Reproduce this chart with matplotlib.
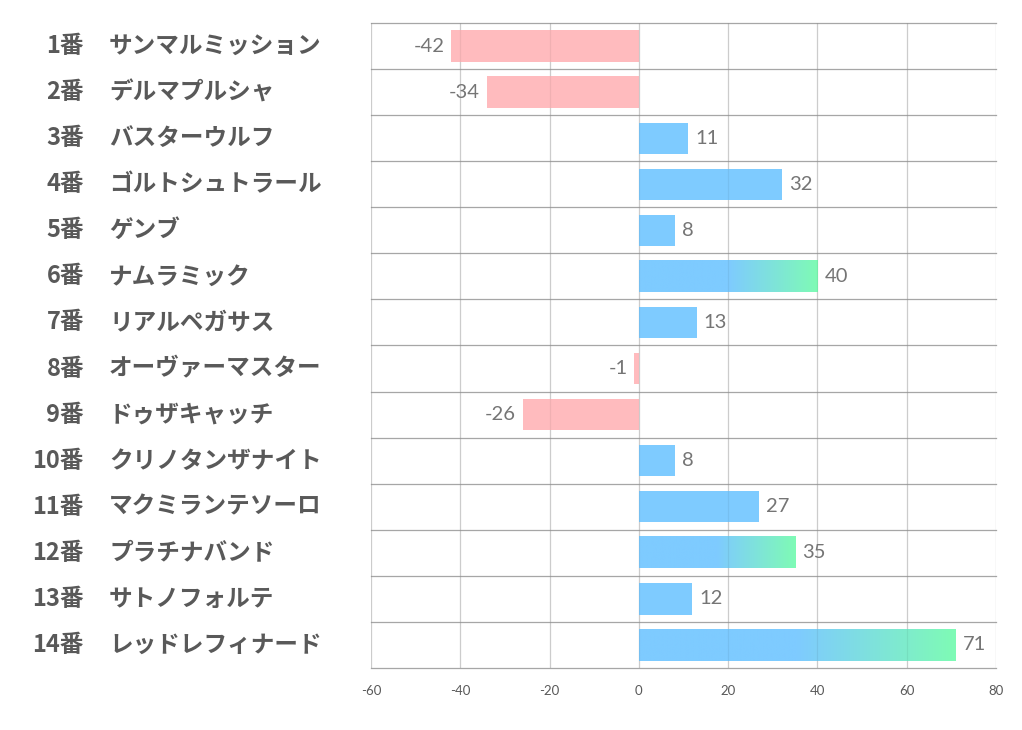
import numpy as np
import matplotlib
matplotlib.use('Agg')
import matplotlib.pyplot as plt
from matplotlib.colors import LinearSegmentedColormap

plt.rcParams['font.family'] = ['Noto Sans CJK JP', 'DejaVu Sans']

numbers = ['1番', '2番', '3番', '4番', '5番', '6番', '7番', '8番', '9番', '10番', '11番', '12番', '13番', '14番']
names = ['サンマルミッション', 'デルマプルシャ', 'バスターウルフ', 'ゴルトシュトラール', 'ゲンブ',
         'ナムラミック', 'リアルペガサス', 'オーヴァーマスター', 'ドゥザキャッチ', 'クリノタンザナイト',
         'マクミランテソーロ', 'プラチナバンド', 'サトノフォルテ', 'レッドレフィナード']
values = [-42, -34, 11, 32, 8, 40, 13, -1, -26, 8, 27, 35, 12, 71]
x_ticks = [-60, -40, -20, 0, 20, 40, 60, 80]

blue = '#7ECBFF'
pink = '#FFBBBE'
green = '#7FFBB5'
grad_min = 35  # bars at or above this fade into green

fig = plt.figure(figsize=(10.22, 7.3), dpi=100)
ax = fig.add_axes([0.363, 0.085, 0.6116, 0.8835])

n = len(values)
ypos = np.arange(n)
bar_h = 0.68

# vertical grid
for t in x_ticks:
    ax.axvline(t, color='#D9D9D9', lw=0.9, zorder=1)
# row separators
for k in range(n + 1):
    ax.axhline(k - 0.5, color='#A6A6A6', lw=0.9, zorder=1, clip_on=False)

cmap = LinearSegmentedColormap.from_list('bg', [blue, green])
# solid blue over the first half of the bar, then fade to green
t = np.linspace(0, 1, 512)
grad = np.clip((t - 0.5) / 0.5, 0, 1).reshape(1, -1)

for y, v in zip(ypos, values):
    if v < 0:
        ax.barh(y, v, height=bar_h, color=pink, zorder=2, lw=0)
    elif v >= grad_min:
        ax.imshow(grad, cmap=cmap, aspect='auto', zorder=2, vmin=0, vmax=1,
                  extent=(0, v, y + bar_h / 2, y - bar_h / 2), interpolation='bilinear')
    else:
        ax.barh(y, v, height=bar_h, color=blue, zorder=2, lw=0)
    if v < 0:
        ax.annotate(str(v), (v, y), xytext=(-5, 0), textcoords='offset points',
                    ha='right', va='center', fontsize=14.5, color='#757575', family='Lato', zorder=3)
    else:
        ax.annotate(str(v), (v, y), xytext=(5, 0), textcoords='offset points',
                    ha='left', va='center', fontsize=14.5, color='#757575', family='Lato', zorder=3)

# faint grid showing through the bars
for tk in x_ticks:
    ax.axvline(tk, color='#000000', alpha=0.06, lw=0.9, zorder=2.5)

ax.set_xlim(-60, 80)
ax.set_ylim(n - 0.5, -0.5)

ax.set_xticks(x_ticks)
ax.set_xticklabels([str(tk) for tk in x_ticks], family='Lato', fontsize=9.5, color='#595959')
ax.tick_params(axis='x', length=0, pad=12)
ax.set_yticks([])
for s in ax.spines.values():
    s.set_visible(False)

# category labels
for y, num, name in zip(ypos, numbers, names):
    yf = ax.transData.transform((0, y))[1] / fig.bbox.height
    fig.text(84 / 1022, yf, num, ha='right', va='center', fontsize=17,
             fontweight='bold', color='#595959')
    fig.text(109 / 1022, yf, name, ha='left', va='center', fontsize=17,
             fontweight='bold', color='#595959')

fig.savefig('out.png', dpi=100)
